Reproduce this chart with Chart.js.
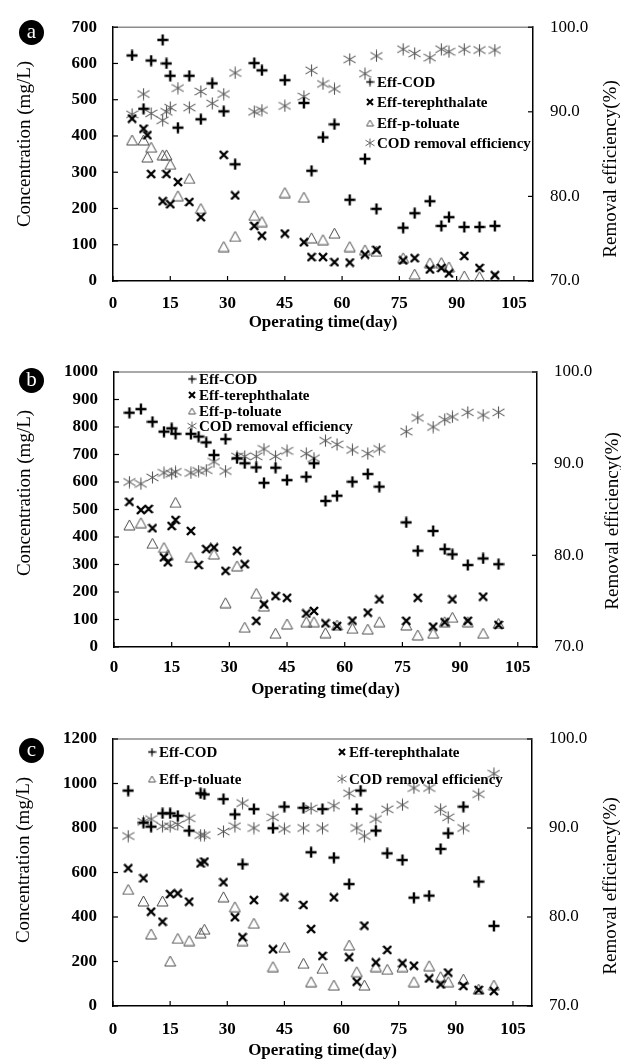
<!DOCTYPE html>
<html><head><meta charset="utf-8">
<script src="https://cdn.jsdelivr.net/npm/chart.js@4/dist/chart.umd.min.js"></script>
<style>
html,body{margin:0;padding:0;background:#fff;width:621px;height:1062px;overflow:hidden;}
.panel{position:absolute;left:0;width:621px;}
.panel canvas{display:block;}
.badge{position:absolute;width:25px;height:25px;border-radius:50%;background:#000;color:#fff;
  font:21px "Liberation Serif",serif;text-align:center;line-height:22px;}
</style></head><body>
<div class="panel" style="top:0;height:335px"><canvas id="ca" width="621" height="335"></canvas></div>
<div class="panel" style="top:335px;height:365px"><canvas id="cb" width="621" height="365"></canvas></div>
<div class="panel" style="top:700px;height:362px"><canvas id="cc" width="621" height="362"></canvas></div>
<div class="badge" style="left:19px;top:20px">a</div>
<div class="badge" style="left:19px;top:368px">b</div>
<div class="badge" style="left:19px;top:738px">c</div>
<script>
// ---------------- DATA ----------------
const xTicks = [0, 15, 30, 45, 60, 75, 90, 105];
const seriesLabels = ['Eff-COD', 'Eff-terephthalate', 'Eff-p-toluate', 'COD removal efficiency'];
const yTitleLeft = 'Concentration (mg/L)';
const yTitleRight = 'Removal efficiency(%)';
const xTitle = 'Operating time(day)';

// Panel a
const aDays = [5, 8, 9, 10, 13, 14, 15, 17, 20, 23, 26, 29, 32, 37, 39, 45, 50, 52, 55, 58, 62, 66, 69, 76, 79, 83, 86, 88, 92, 96, 100];
const aCOD  = [622, 475, null, 608, 665, 600, 566, 423, 566, 446, 545, 468, 322, 601, 581, 554, 491, 304, 396, 432, 224, 337, 199, 147, 187, 220, 152, 176, 149, 149, 152];
const aTer  = [448, 420, 402, 295, 220, 295, 212, 273, 218, 176, null, 348, 236, 152, 125, 131, 107, 66, 66, 52, 51, 73, 86, 57, 63, 32, 36, 21, 69, 36, 16];
const aTol  = [389, 389, 342, 369, 348, 348, 322, 235, 283, 200, null, 95, 123, 181, 164, 244, 231, 119, 114, 132, 95, 86, 82, 64, 19, 50, 51, 39, 14, 12, 10];
const aEff  = [89.7, 92.1, null, 89.8, 89.0, 90.0, 90.5, 92.8, 90.5, 92.4, 91.0, 92.1, 94.6, 90.0, 90.2, 90.7, 91.8, 94.9, 93.3, 92.7, 96.2, 94.5, 96.6, 97.4, 96.9, 96.4, 97.4, 97.1, 97.4, 97.3, 97.3];

// Panel b
const bDays = [4, 7, 9, 10, 13, 14, 15, 16, 20, 22, 24, 26, 29, 32, 34, 37, 39, 42, 45, 50, 52, 55, 58, 62, 66, 69, 76, 79, 83, 86, 88, 92, 96, 100];
const bCOD  = [852, 865, null, 819, 783, null, 795, 775, 775, 765, 744, 698, 756, 686, 668, 653, 597, 652, 607, 619, 668, 531, 550, 601, 629, 583, 453, 350, 422, 356, 337, 298, 322, 301];
const bTer  = [528, 498, 502, 432, 326, 308, 440, 462, 422, 298, 356, 362, 277, 350, 301, 95, 155, 185, 179, 122, 131, 86, 76, 96, 125, 173, 95, 179, 74, 90, 173, 95, 183, 80];
const bTol  = [444, 452, null, 377, 362, 335, null, 526, 326, null, null, 338, 161, 295, 72, 195, 149, 50, 84, 92, 92, 52, 80, 68, 65, 92, 80, 44, 50, 92, 108, 92, 50, 86];
const bEff  = [88.0, 87.8, null, 88.5, 89.0, null, 88.9, 89.1, 89.0, 89.2, 89.3, 90.2, 89.2, 90.8, 90.8, 90.8, 91.6, 90.8, 91.4, 91.1, 90.6, 92.5, 92.1, 91.5, 91.1, 91.6, 93.5, 95.0, 94.0, 94.8, 95.1, 95.6, 95.3, 95.6];

// Panel c
const cDays = [4, 8, 10, 13, 15, 17, 20, 23, 24, 29, 32, 34, 37, 42, 45, 50, 52, 55, 58, 62, 64, 65, 66, 69, 72, 76, 79, 83, 86, 88, 92, 96, 100];
const cCOD  = [968, 824, 806, 866, 866, 855, 788, 956, 951, 930, 861, 637, 885, 799, 896, 891, 691, 885, 667, 548, 885, 968, null, 788, 686, 656, 487, 496, 706, 776, 896, 559, 360];
const cTer  = [619, 574, 424, 379, 503, 506, 469, 641, 649, 556, 399, 309, 476, 255, 488, 454, 346, 225, 488, 219, 109, null, 361, 196, 252, 192, 181, 124, 97, 150, 90, 72, 67];
const cTol  = [524, 472, 324, 472, 202, 304, 294, 329, 345, 491, 446, 294, 372, 177, 264, 192, 109, 169, 94, 274, 154, null, 94, 177, 165, 177, 109, 181, 132, 109, 121, 76, 94];
const cEff  = [89.1, 90.7, 91.0, 90.2, 90.2, 90.4, 91.1, 89.2, 89.2, 89.6, 90.2, 92.8, 90.0, 91.2, 89.9, 90.0, 92.2, 90.0, 92.5, 93.9, 90.0, null, 89.1, 91.0, 92.1, 92.6, 94.5, 94.5, 92.1, 91.2, 90.0, 93.8, 96.1];

// ---------------- MARKERS ----------------
const FONT = '"Liberation Serif", "Times New Roman", serif';
function mk(w, h, draw) { const c = document.createElement('canvas'); c.width = w; c.height = h; const g = c.getContext('2d'); draw(g, w, h); return c; }
function plusImg(s, lw) { return mk(s, s, (g) => { g.strokeStyle = '#000'; g.lineWidth = lw; g.beginPath(); g.moveTo(s/2, 0.5); g.lineTo(s/2, s-0.5); g.moveTo(0.5, s/2); g.lineTo(s-0.5, s/2); g.stroke(); }); }
function crossImg(s, lw) { return mk(s, s, (g) => { g.strokeStyle = '#000'; g.lineWidth = lw; g.beginPath(); g.moveTo(1, 1); g.lineTo(s-1, s-1); g.moveTo(s-1, 1); g.lineTo(1, s-1); g.stroke(); }); }
function triImg(s, col) { return mk(s+2, s+1, (g) => { g.strokeStyle = col; g.lineWidth = 1; g.beginPath(); g.moveTo((s+2)/2, 1); g.lineTo(s+1, s); g.lineTo(1, s); g.closePath(); g.stroke(); }); }
function starImg(s, col, lw) { return mk(s, s, (g) => { g.strokeStyle = col; g.lineWidth = lw; g.beginPath(); g.moveTo(s/2, 0.5); g.lineTo(s/2, s-0.5); g.moveTo(0.5, s*0.22); g.lineTo(s-0.5, s*0.78); g.moveTo(0.5, s*0.78); g.lineTo(s-0.5, s*0.22); g.stroke(); }); }
const IMG = { plus: plusImg(12, 2.4), cross: crossImg(10, 2.4), tri: triImg(11, '#4a4a4a'), star: starImg(13, '#555', 1.1) };
const LEG = { plus: plusImg(9, 1.3), cross: crossImg(8, 2), tri: triImg(7, '#555'), star: starImg(10, '#666', 1) };
const markerKeys = ['plus', 'cross', 'tri', 'star'];

function pts(days, vals) { return days.map((d, i) => ({ x: d, y: vals[i] })).filter(p => p.y !== null); }

// ---------------- PLUGIN ----------------
const framePlugin = {
  id: 'frame',
  afterDraw(chart, args, opts) {
    const { ctx, chartArea: a, scales } = chart;
    const line = (x1, y1, x2, y2) => { ctx.beginPath(); ctx.moveTo(x1, y1); ctx.lineTo(x2, y2); ctx.stroke(); };
    ctx.save();
    ctx.strokeStyle = '#8c8c8c'; ctx.lineWidth = 1.5;
    line(a.left, a.top, a.right, a.top);
    ctx.strokeStyle = '#000'; ctx.lineWidth = 1.2;
    scales.x.ticks.forEach(t => { const p = scales.x.getPixelForValue(t.value); line(p, a.bottom, p, a.bottom - 5); });
    scales.y.ticks.forEach(t => { const p = scales.y.getPixelForValue(t.value); line(a.left, p, a.left + 5, p); });
    scales.y2.ticks.forEach(t => { const p = scales.y2.getPixelForValue(t.value); line(a.right, p, a.right - 5, p); });
    // vertical axis titles (both read bottom-to-top)
    ctx.fillStyle = '#000';
    ctx.font = '19px ' + FONT;
    ctx.textAlign = 'center'; ctx.textBaseline = 'middle';
    [['y', opts.left], ['y2', opts.right]].forEach(([id, pos]) => {
      ctx.save(); ctx.translate(pos.x, pos.y); ctx.rotate(-Math.PI / 2);
      ctx.fillText(scales[id].options.title.text, 0, 0); ctx.restore();
    });
    // legend
    ctx.font = 'bold 15px ' + FONT;
    ctx.textAlign = 'left'; ctx.textBaseline = 'middle';
    opts.legend.forEach(it => {
      const ds = chart.data.datasets[it.ds];
      const img = LEG[markerKeys[it.ds]];
      ctx.drawImage(img, it.x - img.width / 2, it.y - img.height / 2);
      ctx.fillText(ds.label, it.x + 7, it.y + 1);
    });
    ctx.restore();
  }
};

function makeChart(id, P) {
  const tickFont = { family: FONT, size: 17, weight: 'bold' };
  return new Chart(document.getElementById(id), {
    type: 'scatter',
    data: {
      datasets: [
        { label: seriesLabels[0], data: pts(P.days, P.cod), pointStyle: IMG.plus, pointRadius: 5, yAxisID: 'y' },
        { label: seriesLabels[1], data: pts(P.days, P.ter), pointStyle: IMG.cross, pointRadius: 5, yAxisID: 'y' },
        { label: seriesLabels[2], data: pts(P.days, P.tol), pointStyle: IMG.tri, pointRadius: 5, yAxisID: 'y' },
        { label: seriesLabels[3], data: pts(P.days, P.eff), pointStyle: IMG.star, pointRadius: 5, yAxisID: 'y2' }
      ]
    },
    options: {
      responsive: false, animation: false, events: [],
      layout: { padding: { top: P.top, left: 0, right: 0, bottom: 0 } },
      plugins: {
        legend: { display: false }, tooltip: { enabled: false },
        frame: { left: P.lt, right: P.rt, legend: P.legend }
      },
      scales: {
        x: {
          type: 'linear', position: 'bottom', min: 0, max: 110,
          afterBuildTicks: s => { s.ticks = xTicks.map(v => ({ value: v })); },
          afterFit: s => { s.height = P.xH; },
          ticks: { stepSize: 15, padding: P.xPad, color: '#000', font: tickFont, maxRotation: 0, callback: v => String(v) },
          grid: { display: false, drawTicks: false },
          border: { color: '#000', width: 1.5 },
          title: { display: true, text: xTitle, color: '#000', font: { family: FONT, size: 17, weight: 'bold', lineHeight: 1.2 }, padding: { top: 0, bottom: P.xTitlePad } }
        },
        y: {
          type: 'linear', position: 'left', min: 0, max: P.ymax,
          afterFit: s => { s.width = P.lw; },
          ticks: { stepSize: P.ystep, padding: 16, color: '#000', font: tickFont, callback: v => String(v) },
          grid: { display: false, drawTicks: false },
          border: { color: '#000', width: 1.5 },
          title: { display: false, text: yTitleLeft }
        },
        y2: {
          type: 'linear', position: 'right', min: 70, max: 100,
          afterFit: s => { s.width = P.rw; },
          ticks: { stepSize: 10, padding: 17, color: '#000', font: { family: FONT, size: 17 }, callback: v => v.toFixed(1) },
          grid: { display: false, drawTicks: false },
          border: { color: '#000', width: 1.5 },
          title: { display: false, text: yTitleRight }
        }
      }
    },
    plugins: [framePlugin]
  });
}

makeChart('ca', {
  days: aDays, cod: aCOD, ter: aTer, tol: aTol, eff: aEff,
  ymax: 700, ystep: 100, top: 23, xH: 54, lw: 113, rw: 88, xPad: 12, xTitlePad: 2,
  lt: { x: 25, y: 144 }, rt: { x: 611, y: 169 },
  legend: [ { ds: 0, x: 370, y: 82 }, { ds: 1, x: 370, y: 102 }, { ds: 2, x: 370, y: 123 }, { ds: 3, x: 370, y: 143 } ]
});
makeChart('cb', {
  days: bDays, cod: bCOD, ter: bTer, tol: bTol, eff: bEff,
  ymax: 1000, ystep: 100, top: 37, xH: 53, lw: 114, rw: 84, xPad: 10, xTitlePad: 0,
  lt: { x: 25, y: 158 }, rt: { x: 613, y: 186 },
  legend: [ { ds: 0, x: 192, y: 44 }, { ds: 1, x: 192, y: 60 }, { ds: 2, x: 192, y: 76 }, { ds: 3, x: 192, y: 91 } ]
});
makeChart('cc', {
  days: cDays, cod: cCOD, ter: cTer, tol: cTol, eff: cEff,
  ymax: 1200, ystep: 200, top: 39, xH: 56, lw: 113, rw: 89, xPad: 13, xTitlePad: 1,
  lt: { x: 24, y: 160 }, rt: { x: 611, y: 186 },
  legend: [ { ds: 0, x: 152, y: 52 }, { ds: 2, x: 152, y: 79 }, { ds: 1, x: 342, y: 52 }, { ds: 3, x: 342, y: 79 } ]
});
</script>
</body></html>
